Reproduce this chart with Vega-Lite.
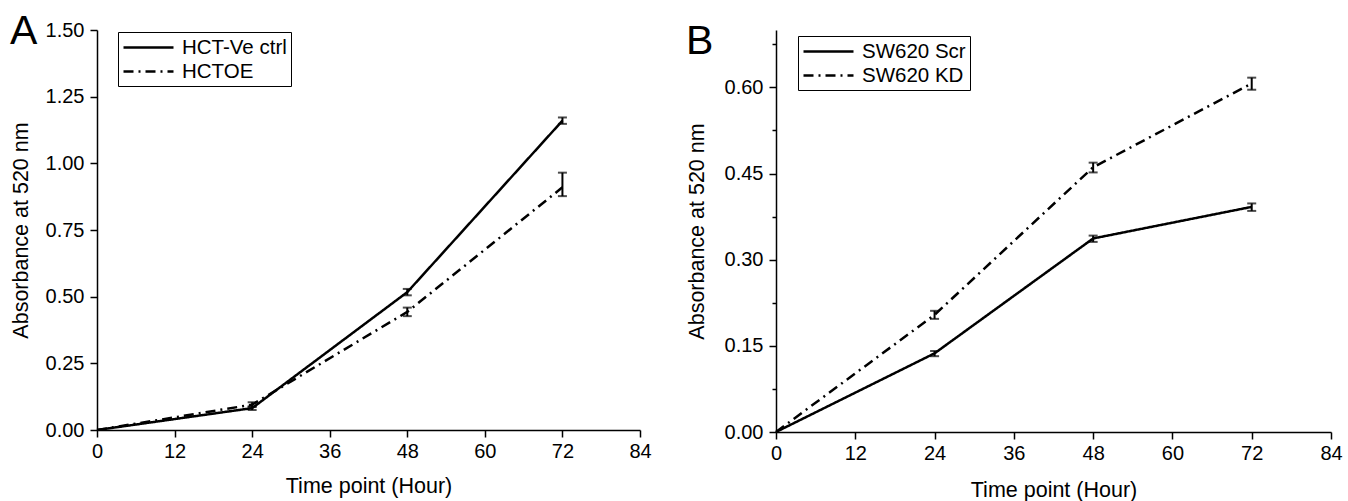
{
  "$schema": "https://vega.github.io/schema/vega-lite/v6.json",
  "background": "white",
  "padding": {"left": 10, "top": 11, "right": 5, "bottom": 2},
  "spacing": 34,
  "config": {
    "font": "Liberation Sans",
    "view": {"stroke": null},
    "axis": {
      "domainColor": "black", "domainWidth": 1.5,
      "tickColor": "black", "tickWidth": 1.5,
      "labelColor": "black", "titleColor": "black",
      "labelFontSize": 20, "titleFontSize": 21.5, "titleFontWeight": "normal",
      "labelFont": "Liberation Sans", "titleFont": "Liberation Sans",
      "grid": false
    },
    "legend": {
      "strokeColor": "black", "padding": 4,
      "symbolType": "M-1,0L4,0", "symbolSize": 400, "symbolStrokeWidth": 2.5, "symbolStrokeColor": "black",
      "symbolFillColor": "transparent",
      "labelFontSize": 20.5, "labelFont": "Liberation Sans", "labelColor": "black",
      "rowPadding": 2, "labelOffset": 37
    },
    "title": {"font": "Liberation Sans", "fontSize": 41, "fontWeight": "normal", "color": "black", "anchor": "start", "frame": "bounds", "offset": -33}
  },
  "datasets": {
    "a": [
      {"t": 0, "series": "HCT-Ve ctrl", "mean": 0, "lo": null, "hi": null},
      {"t": 24, "series": "HCT-Ve ctrl", "mean": 0.082, "lo": 0.075, "hi": 0.089},
      {"t": 48, "series": "HCT-Ve ctrl", "mean": 0.517, "lo": 0.505, "hi": 0.529},
      {"t": 72, "series": "HCT-Ve ctrl", "mean": 1.16, "lo": 1.148, "hi": 1.172},
      {"t": 0, "series": "HCTOE", "mean": 0, "lo": null, "hi": null},
      {"t": 24, "series": "HCTOE", "mean": 0.095, "lo": 0.086, "hi": 0.104},
      {"t": 48, "series": "HCTOE", "mean": 0.443, "lo": 0.427, "hi": 0.459},
      {"t": 72, "series": "HCTOE", "mean": 0.91, "lo": 0.877, "hi": 0.965}
    ],
    "b": [
      {"t": 0, "series": "SW620 Scr", "mean": 0, "lo": null, "hi": null},
      {"t": 24, "series": "SW620 Scr", "mean": 0.137, "lo": 0.132, "hi": 0.141},
      {"t": 48, "series": "SW620 Scr", "mean": 0.337, "lo": 0.331, "hi": 0.342},
      {"t": 72, "series": "SW620 Scr", "mean": 0.392, "lo": 0.385, "hi": 0.398},
      {"t": 0, "series": "SW620 KD", "mean": 0, "lo": null, "hi": null},
      {"t": 24, "series": "SW620 KD", "mean": 0.204, "lo": 0.197, "hi": 0.211},
      {"t": 48, "series": "SW620 KD", "mean": 0.461, "lo": 0.452, "hi": 0.469},
      {"t": 72, "series": "SW620 KD", "mean": 0.607, "lo": 0.596, "hi": 0.617}
    ]
  },
  "resolve": {"scale": {"strokeDash": "independent"}, "legend": {"strokeDash": "independent"}},
  "hconcat": [
    {
      "width": 543, "height": 400,
      "title": {"text": "A"},
      "data": {"name": "a"},
      "layer": [
        {
          "mark": {"type": "line", "strokeWidth": 2.5, "color": "black", "clip": false},
          "encoding": {
            "x": {"field": "t", "type": "quantitative", "title": "Time point (Hour)",
              "scale": {"domain": [0, 84], "nice": false},
              "axis": {"values": [0, 6, 12, 18, 24, 30, 36, 42, 48, 54, 60, 66, 72, 78, 84],
                "labelExpr": "datum.value % 12 === 0 ? datum.label : ''",
                "tickSize": {"condition": {"test": "datum.value % 12 === 0", "value": 7}, "value": 4},
                "labelPadding": 4, "titlePadding": 14, "labelFlush": false}},
            "y": {"field": "mean", "type": "quantitative", "title": "Absorbance at 520 nm",
              "scale": {"domain": [0, 1.5], "nice": false},
              "axis": {"values": [0, 0.125, 0.25, 0.375, 0.5, 0.625, 0.75, 0.875, 1, 1.125, 1.25, 1.375, 1.5],
                "format": ".2f",
                "labelExpr": "round(datum.value * 1000) % 250 === 0 ? datum.label : ''",
                "tickSize": {"condition": {"test": "round(datum.value * 1000) % 250 === 0", "value": 7}, "value": 4},
                "labelPadding": 6, "titlePadding": 13, "labelFlush": false}},
            "strokeDash": {"field": "series", "type": "nominal",
              "scale": {"domain": ["HCT-Ve ctrl", "HCTOE"], "range": [[1, 0], [10, 5, 2, 5]]},
              "legend": {"title": null, "orient": "none", "legendX": 21, "legendY": 2}}
          }
        },
        {
          "transform": [{"filter": "isValid(datum.lo)"}],
          "mark": {"type": "errorbar", "ticks": {"size": 9, "thickness": 2, "color": "black"}, "rule": {"strokeWidth": 2, "color": "black"}},
          "encoding": {
            "x": {"field": "t", "type": "quantitative", "title": "Time point (Hour)"},
            "y": {"field": "lo", "type": "quantitative", "title": "Absorbance at 520 nm"},
            "y2": {"field": "hi"}
          }
        }
      ]
    },
    {
      "width": 555, "height": 402,
      "title": {"text": "B"},
      "data": {"name": "b"},
      "layer": [
        {
          "mark": {"type": "line", "strokeWidth": 2.5, "color": "black", "clip": false},
          "encoding": {
            "x": {"field": "t", "type": "quantitative", "title": "Time point (Hour)",
              "scale": {"domain": [0, 84], "nice": false},
              "axis": {"values": [0, 6, 12, 18, 24, 30, 36, 42, 48, 54, 60, 66, 72, 78, 84],
                "labelExpr": "datum.value % 12 === 0 ? datum.label : ''",
                "tickSize": {"condition": {"test": "datum.value % 12 === 0", "value": 7}, "value": 4},
                "labelPadding": 4, "titlePadding": 16, "labelFlush": false}},
            "y": {"field": "mean", "type": "quantitative", "title": "Absorbance at 520 nm",
              "scale": {"domain": [0, 0.7], "nice": false},
              "axis": {"values": [0, 0.075, 0.15, 0.225, 0.3, 0.375, 0.45, 0.525, 0.6, 0.675],
                "format": ".2f",
                "labelExpr": "round(datum.value * 1000) % 150 === 0 ? datum.label : ''",
                "tickSize": {"condition": {"test": "round(datum.value * 1000) % 150 === 0", "value": 7}, "value": 4},
                "labelPadding": 6, "titlePadding": 16, "labelFlush": false}},
            "strokeDash": {"field": "series", "type": "nominal",
              "scale": {"domain": ["SW620 Scr", "SW620 KD"], "range": [[1, 0], [10, 5, 2, 5]]},
              "legend": {"title": null, "orient": "none", "legendX": 22, "legendY": 6}}
          }
        },
        {
          "transform": [{"filter": "isValid(datum.lo)"}],
          "mark": {"type": "errorbar", "ticks": {"size": 9, "thickness": 2, "color": "black"}, "rule": {"strokeWidth": 2, "color": "black"}},
          "encoding": {
            "x": {"field": "t", "type": "quantitative", "title": "Time point (Hour)"},
            "y": {"field": "lo", "type": "quantitative", "title": "Absorbance at 520 nm"},
            "y2": {"field": "hi"}
          }
        }
      ]
    }
  ]
}
